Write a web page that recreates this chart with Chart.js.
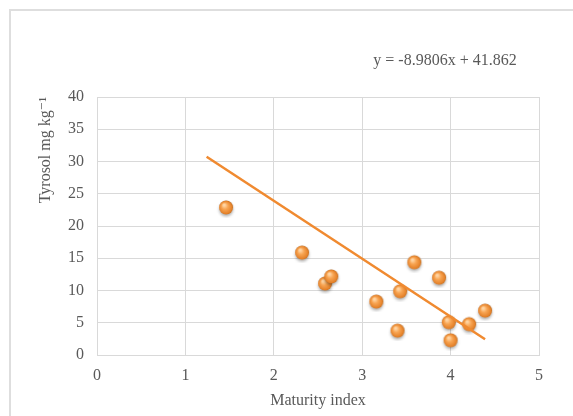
<!DOCTYPE html>
<html>
<head>
<meta charset="utf-8">
<script src="https://cdn.jsdelivr.net/npm/chart.js@4"></script>
<style>
    body { margin: 0; background: #fff; }
    #wrap { position: relative; width: 573px; height: 416px; }
    #frame { position: absolute; left: 9px; top: 9px; right: 0; bottom: 0; border-left: 2px solid #dedede; border-top: 2px solid #dedede; }
    canvas { position: absolute; left: 0; top: 0; }
</style>
</head>
<body>
<div id="wrap">
    <div id="frame"></div>
    <canvas id="tyrosolChart" width="573" height="416"></canvas>
</div>
<script>
// values
const maturityIndex = [1.46, 2.32, 2.58, 2.65, 3.16, 3.40, 3.43, 3.59, 3.87, 3.98, 4.00, 4.21, 4.39];
const tyrosol       = [22.8, 15.8, 11.0, 12.1, 8.2, 3.7, 9.8, 14.3, 11.9, 5.0, 2.2, 4.7, 6.8];

// linear trend line shown on the chart
const trendSlope = -8.9806;
const trendIntercept = 41.862;
const trendRange = [1.24, 4.39];

const xTicks = [0, 1, 2, 3, 4, 5];
const yTicks = [0, 5, 10, 15, 20, 25, 30, 35, 40];

const textColor = '#595959';
const gridColor = '#d9d9d9';
const serif = "'Liberation Serif', 'DejaVu Serif', serif";

// little orange ball used as the marker
function makeBall() {
    const c = document.createElement('canvas');
    c.width = 20; c.height = 20;
    const g = c.getContext('2d');
    g.shadowColor = 'rgba(0,0,0,0.3)';
    g.shadowBlur = 3;
    g.shadowOffsetY = 2;
    const grad = g.createRadialGradient(8, 7, 1, 10, 10, 7.5);
    grad.addColorStop(0, '#ffd4a2');
    grad.addColorStop(0.35, '#f8a553');
    grad.addColorStop(0.8, '#e5822a');
    grad.addColorStop(1, '#b06218');
    g.fillStyle = grad;
    g.beginPath();
    g.arc(10, 9.5, 7, 0, Math.PI * 2);
    g.fill();
    return c;
}

const points = maturityIndex.map((x, i) => ({ x: x, y: tyrosol[i] }));
const trendPoints = trendRange.map(x => ({ x: x, y: trendSlope * x + trendIntercept }));

const equationLabel = {
    id: 'equationLabel',
    afterDraw(chart) {
        const ctx = chart.ctx;
        ctx.save();
        ctx.font = '16px ' + serif;
        ctx.fillStyle = textColor;
        ctx.textAlign = 'center';
        ctx.textBaseline = 'middle';
        const b = trendIntercept >= 0 ? ' + ' + trendIntercept : ' - ' + Math.abs(trendIntercept);
        ctx.fillText('y = ' + trendSlope + 'x' + b, 445, 61);
        ctx.restore();
    }
};

const ctx = document.getElementById('tyrosolChart').getContext('2d');
new Chart(ctx, {
    type: 'scatter',
    data: {
        datasets: [
            {
                type: 'line',
                data: trendPoints,
                borderColor: '#f08a30',
                borderWidth: 2.5,
                pointRadius: 0,
                fill: false,
                order: 0
            },
            {
                data: points,
                pointStyle: makeBall(),
                pointRadius: 8,
                order: 1
            }
        ]
    },
    options: {
        responsive: false,
        animation: false,
        layout: { padding: { left: 0, top: 97, right: 34, bottom: 0 } },
        plugins: {
            legend: { display: false },
            tooltip: { enabled: false }
        },
        scales: {
            x: {
                type: 'linear',
                min: 0,
                max: 5,
                afterBuildTicks: s => { s.ticks = xTicks.map(v => ({ value: v })); },
                afterFit: s => { s.height = 61; },
                grid: { color: gridColor, drawTicks: false },
                border: { color: gridColor },
                ticks: { color: textColor, padding: 11, font: { family: serif, size: 16 } },
                title: {
                    display: true,
                    text: 'Maturity index',
                    color: textColor,
                    font: { family: serif, size: 16 },
                    padding: { bottom: 6 }
                }
            },
            y: {
                min: 0,
                max: 40,
                afterBuildTicks: s => { s.ticks = yTicks.map(v => ({ value: v })); },
                afterFit: s => { s.width = 97; },
                grid: { color: gridColor, drawTicks: false },
                border: { color: gridColor },
                ticks: { color: textColor, padding: 13, font: { family: serif, size: 16 } },
                title: {
                    display: true,
                    text: 'Tyrosol mg kg\u207B\u00B9',
                    align: 'end',
                    color: textColor,
                    font: { family: serif, size: 16 },
                    padding: { top: 36 }
                }
            }
        }
    },
    plugins: [equationLabel]
});
</script>
</body>
</html>
